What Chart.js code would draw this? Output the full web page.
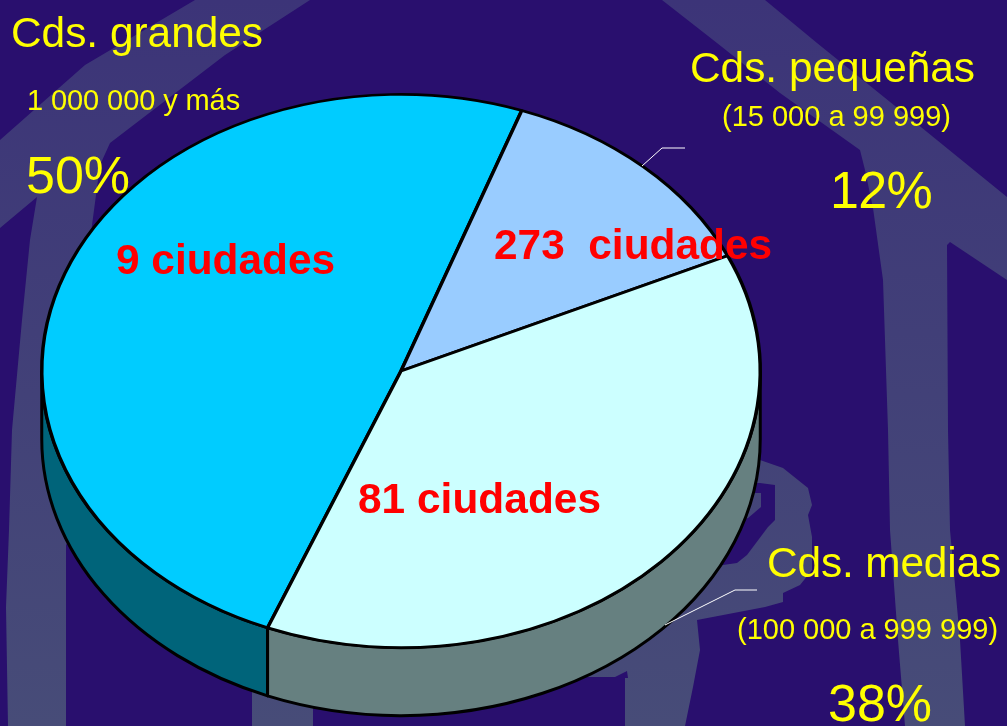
<!DOCTYPE html>
<html>
<head>
<meta charset="utf-8">
<script src="https://cdn.jsdelivr.net/npm/chart.js@4"></script>
<style>
    html, body { margin: 0; padding: 0; background: #290F6E; overflow: hidden; }
    #wrap { position: relative; width: 1007px; height: 726px; }
</style>
</head>
<body>
<div id="wrap"><canvas id="pieChart"></canvas></div>
<script>
// Data
const categories = ['Cds. grandes', 'Cds. pequeñas', 'Cds. medias'];
const ranges = ['1 000 000 y más', '(15 000 a 99 999)', '(100 000 a 999 999)'];
const shareLabels = ['50%', '12%', '38%'];
const cityCounts = ['9 ciudades', '273  ciudades', '81 ciudades'];
// Slice sizes as measured on the drawn pie, the printed labels are rounded
const shares = [49.4, 12.7, 37.9];

// Colors
const topColors = ['#00CCFF', '#99CCFF', '#CCFFFF'];
const wallColors = ['#00647A', '#5F80A0', '#668080'];

// Text placement: x, baseline, width to fit, per slice
const namePos = [[11, 47, 252], [690, 82, 285], [767, 577, 234]];
const rangePos = [[27, 110, 213], [722, 126, 229], [737, 639, 261]];
const sharePos = [[26, 193, 104], [830, 208, 102], [828, 721, 104]];
const countPos = [[116, 274, 219], [494, 259, 278], [358, 513, 243]];

// Pie is drawn flattened, this is the tilt of the disc
const squash = 278 / 361;
const discCenterY = 371;
const discDepth = 68;

// Watermark shapes behind the chart
const watermark = [
    [[195, 0], [310, 0], [225, 55], [110, 143], [100, 165], [90, 240], [150, 400], [66, 545], [66, 726], [8, 726], [6, 607], [9, 530], [12, 430], [22, 320], [30, 240], [37, 197], [0, 228], [0, 140], [85, 65]],
    [[662, 0], [765, 0], [817, 43], [900, 110], [1007, 197], [1007, 280], [950, 242], [947, 245], [948, 430], [950, 530], [960, 640], [965, 726], [905, 726], [898, 640], [890, 530], [888, 430], [883, 280], [873, 208], [865, 170], [860, 150], [780, 93], [717, 43]],
    [[740, 455], [760, 460], [783, 468], [808, 488], [812, 505], [808, 515], [812, 537], [812, 570], [800, 585], [783, 593], [783, 602], [765, 607], [697, 620], [700, 650], [693, 687], [685, 726], [625, 726], [625, 678], [628, 678], [627, 671], [615, 677], [585, 677], [600, 640], [700, 560], [723, 565], [737, 563], [747, 555], [768, 527], [775, 520], [775, 485], [760, 483], [740, 483]],
    [[740, 493], [761, 493], [761, 507], [748, 518], [740, 520]],
    [[252, 680], [313, 680], [313, 726], [252, 726]]
];

function drawFitted(ctx, text, pos, font, color) {
    ctx.font = font;
    ctx.fillStyle = color;
    ctx.letterSpacing = '0px';
    const extra = (pos[2] - ctx.measureText(text).width) / text.length;
    ctx.letterSpacing = extra.toFixed(2) + 'px';
    ctx.fillText(text, pos[0], pos[1]);
    ctx.letterSpacing = '0px';
}

// The flat disc with its side wall, the library only draws the top
const tiltPlugin = {
    id: 'tilt',
    beforeDraw(chart) {
        const ctx = chart.ctx;
        const fade = ctx.createLinearGradient(0, 0, 0, 726);
        fade.addColorStop(0, '#3C3478');
        fade.addColorStop(1, '#474C78');
        ctx.save();
        ctx.fillStyle = fade;
        watermark.forEach(function (shape) {
            ctx.beginPath();
            shape.forEach(function (p, i) {
                if (i === 0) ctx.moveTo(p[0], p[1]);
                else ctx.lineTo(p[0], p[1]);
            });
            ctx.closePath();
            ctx.fill();
        });
        ctx.restore();
    },
    beforeDatasetsDraw(chart) {
        const ctx = chart.ctx;
        const arcs = chart.getDatasetMeta(0).data;
        const cx = arcs[0].x;
        const cy = arcs[0].y;
        const rx = arcs[0].outerRadius;
        const ry = rx * squash;

        // Side wall, only the front half of the disc shows
        ctx.save();
        ctx.strokeStyle = '#000';
        ctx.lineWidth = 3;
        ctx.lineJoin = 'round';
        arcs.forEach(function (arc, i) {
            [0, 2 * Math.PI].forEach(function (turn) {
                const a0 = Math.max(arc.startAngle, turn);
                const a1 = Math.min(arc.endAngle, turn + Math.PI);
                if (a1 <= a0) return;
                ctx.beginPath();
                ctx.ellipse(cx, discCenterY, rx, ry, 0, a0, a1);
                ctx.ellipse(cx, discCenterY + discDepth, rx, ry, 0, a1, a0, true);
                ctx.closePath();
                ctx.fillStyle = wallColors[i];
                ctx.fill();
                ctx.stroke();
            });
        });
        ctx.restore();

        ctx.save();
        ctx.translate(cx, discCenterY);
        ctx.scale(1, squash);
        ctx.translate(-cx, -cy);
    },
    afterDatasetsDraw(chart) {
        chart.ctx.restore();
    },
    afterDraw(chart) {
        const ctx = chart.ctx;
        ctx.save();

        // Leader lines
        ctx.strokeStyle = '#FFFFFF';
        ctx.lineWidth = 1;
        ctx.beginPath();
        ctx.moveTo(642, 166);
        ctx.lineTo(662, 148);
        ctx.lineTo(685, 148);
        ctx.moveTo(665, 625);
        ctx.lineTo(735, 590);
        ctx.lineTo(757, 590);
        ctx.stroke();

        ctx.textAlign = 'left';
        ctx.textBaseline = 'alphabetic';
        const family = '"Liberation Sans", Arial, sans-serif';
        categories.forEach(function (name, i) {
            drawFitted(ctx, name, namePos[i], '42.4px ' + family, '#FFFF00');
            drawFitted(ctx, ranges[i], rangePos[i], '29px ' + family, '#FFFF00');
            drawFitted(ctx, shareLabels[i], sharePos[i], '52px ' + family, '#FFFF00');
            drawFitted(ctx, cityCounts[i], countPos[i], 'bold 42.4px ' + family, '#FF0000');
        });
        ctx.restore();
    }
};

const pieCtx = document.getElementById('pieChart').getContext('2d');
const pieChart = new Chart(pieCtx, {
    type: 'pie',
    data: {
        labels: categories,
        datasets: [{
            data: shares,
            backgroundColor: topColors,
            borderColor: '#000000',
            borderWidth: 3.5,
            hoverOffset: 0
        }]
    },
    options: {
        responsive: true,
        maintainAspectRatio: false,
        animation: false,
        rotation: 201.8,
        layout: {
            padding: { left: 40, right: 245, top: 2, bottom: 2 }
        },
        plugins: {
            legend: { display: false },
            tooltip: { enabled: false }
        }
    },
    plugins: [tiltPlugin]
});
</script>
</body>
</html>
